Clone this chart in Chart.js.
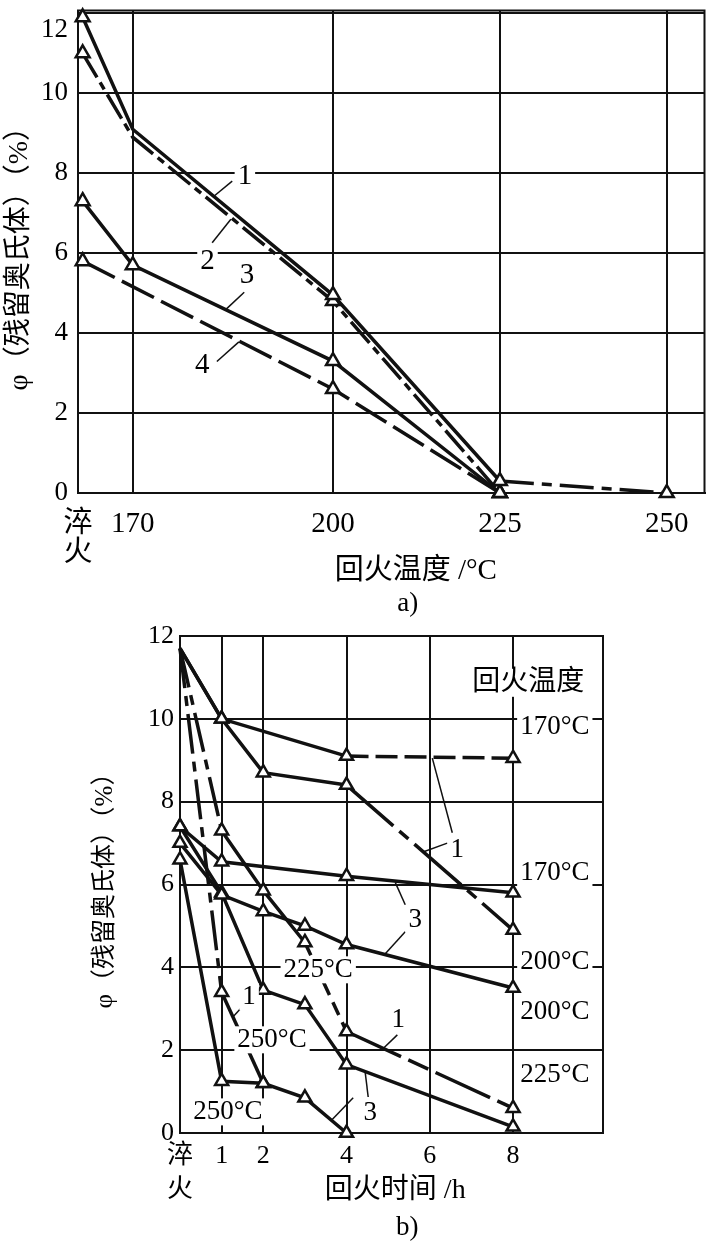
<!DOCTYPE html>
<html lang="zh">
<head>
<meta charset="utf-8">
<title>残留奥氏体与回火温度、回火时间的关系</title>
<script src="https://cdn.jsdelivr.net/npm/chart.js@4.4.1/dist/chart.umd.min.js"></script>
<style>
  html, body { margin: 0; padding: 0; background: #fff; }
  #wrap { position: relative; width: 715px; height: 1245px; overflow: hidden; }
  canvas { position: absolute; left: 0; }
  #chartA { top: 0; }
  #chartB { top: 615px; }
</style>
</head>
<body>
<div id="wrap">
  <canvas id="chartA" width="715" height="625"></canvas>
  <canvas id="chartB" width="715" height="630"></canvas>
</div>
<script>
// ---- a) retained austenite vs tempering temperature ----
const tempTicks = [161.8, 170, 200, 225, 250]; // first one is the "淬火" column
const pctTicks = [0, 2, 4, 6, 8, 10, 12];
const quenchT = 162.5;

const a1Temp = [quenchT, 170, 200, 225, 250];
const a1Val = [11.9, 9.1, 4.95, 0.3, 0];
const a2Temp = [quenchT, 170, 200, 225];
const a2Val = [11.0, 8.9, 4.8, 0];
const a3Temp = [quenchT, 170, 200, 225];
const a3Val = [7.3, 5.7, 3.3, 0];
const a4Temp = [quenchT, 200, 225];
const a4Val = [5.8, 2.6, 0];

// ---- b) retained austenite vs tempering time (h), 0 = as quenched ----
const timeTicks = [0, 1, 2, 4, 6, 8];

// steel 1
const s1t170 = [0, 1, 4, 8];
const s1v170 = [11.7, 10.0, 9.1, 9.05];
const s1t200 = [0, 1, 2, 4, 8];
const s1v200 = [11.7, 10.0, 8.7, 8.4, 4.9];
const s1t225 = [0, 1, 2, 3, 4, 8];
const s1v225 = [11.7, 7.3, 5.85, 4.6, 2.45, 0.6];
const s1t250 = [0, 1, 2];
const s1v250 = [11.7, 3.4, 1.2];

// steel 3
const s3t170 = [0, 1, 4, 8];
const s3v170 = [7.4, 6.55, 6.2, 5.8];
const s3t200 = [0, 1, 2, 3, 4, 8];
const s3v200 = [7.0, 5.75, 5.35, 5.0, 4.55, 3.5];
const s3t225 = [0, 1, 2, 3, 4, 8];
const s3v225 = [7.4, 5.8, 3.45, 3.1, 1.65, 0.15];
const s3t250 = [0, 1, 2, 3, 4];
const s3v250 = [6.6, 1.25, 1.2, 0.85, 0];

const serif = "'Liberation Serif', 'Noto Sans CJK SC', serif";
const ink = "#111";

document.addEventListener("DOMContentLoaded", function () {
  initChartA();
  initChartB();
});

// build {x, y} points from two arrays
function pts(xs, ys) {
  return xs.map(function (x, i) {
    return { x: x, y: ys[i] };
  });
}

// dash only some segments (keyed by start index)
function dashSegs(map) {
  return {
    borderDash: function (ctx) {
      return map[ctx.p0DataIndex];
    },
  };
}

// no triangle at the given x values
function noMarkAt(xs, r) {
  return function (ctx) {
    return ctx.raw && xs.indexOf(ctx.raw.x) >= 0 ? 0 : r;
  };
}

function lineStyle(r) {
  return {
    borderColor: ink,
    borderWidth: 3.5,
    tension: 0,
    fill: false,
    clip: false,
    pointStyle: "triangle",
    pointRadius: r,
    pointBorderColor: ink,
    pointBackgroundColor: "#fff",
    pointBorderWidth: 2.5,
  };
}

// frame + leader lines + free text, all placed in data units
const notesPlugin = {
  id: "notes",
  beforeDatasetsDraw: function (chart) {
    const a = chart.chartArea;
    const ctx = chart.ctx;
    ctx.save();
    ctx.strokeStyle = ink;
    ctx.lineWidth = 2;
    ctx.strokeRect(a.left, a.top, a.right - a.left, a.bottom - a.top);
    ctx.restore();
  },
  afterDatasetsDraw: function (chart, args, opts) {
    const ctx = chart.ctx;
    const sx = chart.scales.x;
    const sy = chart.scales.y;
    ctx.save();
    ctx.strokeStyle = ink;
    ctx.lineWidth = 1.5;
    (opts.leaders || []).forEach(function (l) {
      ctx.beginPath();
      ctx.moveTo(sx.getPixelForValue(l[0]), sy.getPixelForValue(l[1]));
      ctx.lineTo(sx.getPixelForValue(l[2]), sy.getPixelForValue(l[3]));
      ctx.stroke();
    });
    (opts.texts || []).forEach(function (t) {
      const px = sx.getPixelForValue(t.x);
      const py = sy.getPixelForValue(t.y);
      ctx.font = t.size + "px " + serif;
      ctx.textAlign = t.align || "center";
      ctx.textBaseline = "middle";
      if (t.bg) {
        const w = ctx.measureText(t.text).width + 6;
        let x0 = px - w / 2;
        if (t.align === "left") x0 = px - 3;
        ctx.fillStyle = "#fff";
        ctx.fillRect(x0, py - t.size * 0.5, w, t.size);
      }
      ctx.fillStyle = "#000";
      ctx.fillText(t.text, px, py);
    });
    ctx.restore();
  },
};

// Chart a) - tempering temperature
function initChartA() {
  const ctx = document.getElementById("chartA");
  new Chart(ctx, {
    type: "line",
    data: {
      datasets: [
        Object.assign(lineStyle(noMarkAt([170], 8)), {
          data: pts(a1Temp, a1Val),
          segment: dashSegs({ 3: [34, 8, 10, 8] }),
        }),
        Object.assign(lineStyle(noMarkAt([170], 8)), {
          data: pts(a2Temp, a2Val),
          borderDash: [28, 6, 8, 6],
        }),
        Object.assign(lineStyle(8), {
          data: pts(a3Temp, a3Val),
        }),
        Object.assign(lineStyle(8), {
          data: pts(a4Temp, a4Val),
          borderDash: [36, 8],
        }),
      ],
    },
    options: {
      responsive: false,
      animation: false,
      events: [],
      layout: { padding: { top: 5, right: 6, bottom: 0, left: 0 } },
      plugins: {
        legend: { display: false },
        tooltip: { enabled: false },
        notes: {
          leaders: [
            [184.9, 7.8, 182.2, 7.43],
            [181.9, 6.26, 184.7, 6.85],
            [186.7, 5.02, 184.0, 4.6],
            [182.6, 3.29, 185.9, 3.78],
          ],
          texts: [
            { text: "1", x: 186.8, y: 7.92, size: 29, bg: true },
            { text: "2", x: 181.2, y: 5.79, size: 29, bg: true },
            { text: "3", x: 187.1, y: 5.45, size: 29, bg: true },
            { text: "4", x: 180.4, y: 3.19, size: 29, bg: true },
            { text: "回火温度 /°C", x: 212.4, y: -1.96, size: 29 },
            { text: "a)", x: 211.2, y: -2.77, size: 27 },
          ],
        },
      },
      scales: {
        x: {
          type: "linear",
          min: 161.8,
          max: 255.65,
          afterBuildTicks: function (s) {
            s.ticks = tempTicks.map(function (v) {
              return { value: v };
            });
          },
          afterFit: function (s) {
            s.height = 132;
            s.paddingLeft = 0;
            s.paddingRight = 0;
          },
          grid: { color: ink, lineWidth: 2, drawTicks: false },
          border: { display: true, color: ink, width: 2 },
          ticks: {
            color: "#000",
            padding: 17,
            autoSkip: false,
            maxRotation: 0,
            font: { family: serif, size: 29, lineHeight: 1.0 },
            callback: function (v) {
              return v === tempTicks[0] ? ["淬", "火"] : String(v);
            },
          },
        },
        y: {
          min: 0,
          max: 12.07,
          afterBuildTicks: function (s) {
            s.ticks = pctTicks.map(function (v) {
              return { value: v };
            });
          },
          afterFit: function (s) {
            s.width = 78;
            s.paddingTop = 0;
            s.paddingBottom = 0;
          },
          grid: { color: ink, lineWidth: 2, drawTicks: false },
          border: { display: true, color: ink, width: 2 },
          ticks: {
            color: "#000",
            padding: 10,
            font: { family: serif, size: 27 },
            // push the top label below the frame
            callback: function (v) {
              return v === 12 ? ["", "12"] : String(v);
            },
          },
          title: {
            display: true,
            text: "φ（残留奥氏体）（%）",
            color: "#000",
            font: { family: serif, size: 28 },
            padding: { top: 3, bottom: 0 },
          },
        },
      },
    },
    plugins: [notesPlugin],
  });
}

// Chart b) - tempering time
function initChartB() {
  const ctx = document.getElementById("chartB");
  const r = 7.5;
  new Chart(ctx, {
    type: "line",
    data: {
      datasets: [
        Object.assign(lineStyle(noMarkAt([0], r)), {
          data: pts(s1t170, s1v170),
          segment: dashSegs({ 2: [22, 7] }),
        }),
        Object.assign(lineStyle(noMarkAt([0], r)), {
          data: pts(s1t200, s1v200),
          segment: dashSegs({ 3: [62, 8, 12, 8] }),
        }),
        Object.assign(lineStyle(noMarkAt([0], r)), {
          data: pts(s1t225, s1v225),
          segment: dashSegs({ 0: [40, 8, 10, 8], 3: [14, 8], 4: [60, 8, 22, 8] }),
        }),
        Object.assign(lineStyle(noMarkAt([0], r)), {
          data: pts(s1t250, s1v250),
          segment: dashSegs({ 0: [40, 8, 10, 8] }),
        }),
        Object.assign(lineStyle(r), { data: pts(s3t170, s3v170) }),
        Object.assign(lineStyle(r), { data: pts(s3t200, s3v200) }),
        Object.assign(lineStyle(r), { data: pts(s3t225, s3v225) }),
        Object.assign(lineStyle(r), { data: pts(s3t250, s3v250) }),
      ],
    },
    options: {
      responsive: false,
      animation: false,
      events: [],
      layout: { padding: { top: 21, right: 112, bottom: 0, left: 0 } },
      plugins: {
        legend: { display: false },
        tooltip: { enabled: false },
        notes: {
          leaders: [
            [6.54, 7.25, 6.06, 9.05],
            [6.42, 7.0, 5.82, 6.78],
            [1.49, 3.04, 1.27, 2.8],
            [5.22, 2.37, 4.88, 2.04],
            [5.41, 5.51, 5.17, 6.05],
            [5.41, 4.86, 4.93, 4.33],
            [4.52, 0.87, 4.45, 1.45],
            [4.16, 0.85, 3.65, 0.32],
          ],
          texts: [
            { text: "回火温度", x: 7.02, y: 10.87, size: 28, align: "left", bg: true },
            { text: "170°C", x: 8.17, y: 9.81, size: 27, align: "left", bg: true },
            { text: "170°C", x: 8.17, y: 6.28, size: 27, align: "left", bg: true },
            { text: "200°C", x: 8.17, y: 4.13, size: 27, align: "left", bg: true },
            { text: "200°C", x: 8.17, y: 2.92, size: 27, align: "left", bg: true },
            { text: "225°C", x: 8.17, y: 1.4, size: 27, align: "left", bg: true },
            { text: "225°C", x: 3.32, y: 3.94, size: 27, bg: true },
            { text: "250°C", x: 2.21, y: 2.25, size: 27, bg: true },
            { text: "250°C", x: 1.15, y: 0.51, size: 27, bg: true },
            { text: "1", x: 6.66, y: 6.84, size: 27, bg: true },
            { text: "1", x: 1.66, y: 3.29, size: 27, bg: true },
            { text: "1", x: 5.24, y: 2.73, size: 27, bg: true },
            { text: "3", x: 5.65, y: 5.14, size: 27, bg: true },
            { text: "3", x: 4.57, y: 0.48, size: 27, bg: true },
            { text: "回火时间 /h", x: 5.17, y: -1.38, size: 28 },
            { text: "b)", x: 5.46, y: -2.29, size: 27 },
          ],
        },
      },
      scales: {
        x: {
          type: "linear",
          min: 0,
          max: 10.16,
          afterBuildTicks: function (s) {
            s.ticks = timeTicks.map(function (v) {
              return { value: v };
            });
          },
          afterFit: function (s) {
            s.height = 112;
            s.paddingLeft = 0;
            s.paddingRight = 0;
          },
          grid: { color: ink, lineWidth: 2, drawTicks: false },
          border: { display: true, color: ink, width: 2 },
          ticks: {
            color: "#000",
            padding: 6,
            autoSkip: false,
            maxRotation: 0,
            font: { family: serif, size: 26, lineHeight: 1.3 },
            callback: function (v) {
              return v === 0 ? ["淬", "火"] : String(v);
            },
          },
        },
        y: {
          min: 0,
          max: 12,
          afterBuildTicks: function (s) {
            s.ticks = pctTicks.map(function (v) {
              return { value: v };
            });
          },
          afterFit: function (s) {
            s.width = 180;
            s.paddingTop = 0;
            s.paddingBottom = 0;
          },
          grid: { color: ink, lineWidth: 2, drawTicks: false },
          border: { display: true, color: ink, width: 2 },
          ticks: {
            color: "#000",
            padding: 6,
            font: { family: serif, size: 26 },
          },
          title: {
            display: true,
            text: "φ（残留奥氏体）（%）",
            color: "#000",
            font: { family: serif, size: 25 },
            padding: { top: 90, bottom: 0 },
          },
        },
      },
    },
    plugins: [notesPlugin],
  });
}
</script>
</body>
</html>
